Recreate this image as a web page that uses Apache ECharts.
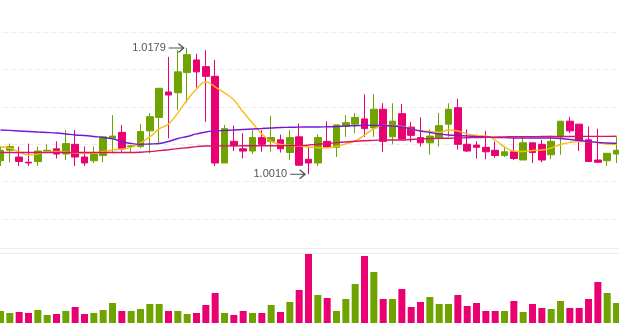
<!DOCTYPE html>
<html>
<head>
<meta charset="utf-8">
<style>
  html, body { margin: 0; padding: 0; background: #fff; }
  #chart { width: 619px; height: 325px; }
</style>
<script src="https://cdn.jsdelivr.net/npm/echarts/dist/echarts.min.js"></script>
</head>
<body>
<div id="chart"></div>
<script>
// Daily candles: [open, close, low, high]
const candles = [
  [1.0028, 1.0042, 1.0021, 1.0047],
  [1.0042, 1.0047, 1.0026, 1.0051],
  [1.0033, 1.0027, 1.0021, 1.0047],
  [1.0026, 1.0025, 1.0021, 1.0051],
  [1.0027, 1.0041, 1.0021, 1.0047],
  [1.0041, 1.0042, 1.0040, 1.0050],
  [1.0044, 1.0037, 1.0031, 1.0054],
  [1.0037, 1.0051, 1.0029, 1.0069],
  [1.0050, 1.0033, 1.0021, 1.0069],
  [1.0033, 1.0025, 1.0021, 1.0047],
  [1.0028, 1.0037, 1.0025, 1.0047],
  [1.0035, 1.0060, 1.0026, 1.0060],
  [1.0058, 1.0061, 1.0038, 1.0089],
  [1.0066, 1.0044, 1.0040, 1.0076],
  [1.0047, 1.0048, 1.0040, 1.0049],
  [1.0047, 1.0067, 1.0045, 1.0077],
  [1.0068, 1.0087, 1.0038, 1.0092],
  [1.0086, 1.0125, 1.0051, 1.0125],
  [1.0120, 1.0116, 1.0058, 1.0167],
  [1.0119, 1.0147, 1.0096, 1.0176],
  [1.0146, 1.0170, 1.0106, 1.0179],
  [1.0163, 1.0147, 1.0126, 1.0171],
  [1.0154, 1.0141, 1.0080, 1.0176],
  [1.0141, 1.0025, 1.0021, 1.0163],
  [1.0025, 1.0071, 1.0025, 1.0076],
  [1.0054, 1.0048, 1.0041, 1.0075],
  [1.0044, 1.0041, 1.0031, 1.0065],
  [1.0041, 1.0059, 1.0037, 1.0069],
  [1.0059, 1.0050, 1.0040, 1.0069],
  [1.0054, 1.0059, 1.0040, 1.0088],
  [1.0056, 1.0044, 1.0039, 1.0063],
  [1.0039, 1.0059, 1.0029, 1.0069],
  [1.0060, 1.0022, 1.0022, 1.0078],
  [1.0030, 1.0025, 1.0010, 1.0047],
  [1.0025, 1.0059, 1.0021, 1.0063],
  [1.0054, 1.0046, 1.0045, 1.0081],
  [1.0046, 1.0076, 1.0033, 1.0076],
  [1.0074, 1.0079, 1.0060, 1.0089],
  [1.0077, 1.0086, 1.0065, 1.0092],
  [1.0084, 1.0071, 1.0060, 1.0117],
  [1.0072, 1.0097, 1.0060, 1.0117],
  [1.0097, 1.0054, 1.0040, 1.0105],
  [1.0060, 1.0081, 1.0050, 1.0105],
  [1.0091, 1.0057, 1.0056, 1.0104],
  [1.0073, 1.0062, 1.0053, 1.0080],
  [1.0059, 1.0052, 1.0047, 1.0086],
  [1.0052, 1.0061, 1.0036, 1.0070],
  [1.0058, 1.0075, 1.0047, 1.0092],
  [1.0077, 1.0097, 1.0060, 1.0105],
  [1.0099, 1.0050, 1.0043, 1.0111],
  [1.0050, 1.0041, 1.0040, 1.0070],
  [1.0049, 1.0046, 1.0031, 1.0054],
  [1.0046, 1.0040, 1.0030, 1.0068],
  [1.0042, 1.0035, 1.0032, 1.0054],
  [1.0035, 1.0040, 1.0033, 1.0046],
  [1.0040, 1.0031, 1.0029, 1.0059],
  [1.0029, 1.0052, 1.0029, 1.0059],
  [1.0052, 1.0039, 1.0025, 1.0052],
  [1.0050, 1.0029, 1.0026, 1.0056],
  [1.0036, 1.0054, 1.0030, 1.0062],
  [1.0060, 1.0081, 1.0036, 1.0081],
  [1.0081, 1.0068, 1.0065, 1.0087],
  [1.0077, 1.0055, 1.0041, 1.0077],
  [1.0056, 1.0027, 1.0027, 1.0074],
  [1.0029, 1.0026, 1.0025, 1.0071],
  [1.0028, 1.0038, 1.0021, 1.0038],
  [1.0037, 1.0042, 1.0025, 1.0060]
];

// Traded volume per day
const volumes = [
  12, 10, 11, 10, 13, 8, 9, 12, 16, 9,
  10, 13, 20, 12, 12, 14, 19, 19, 12, 12,
  9, 10, 18, 30, 10, 8, 12, 10, 10, 18,
  11, 21, 33, 69, 28, 25, 12, 24, 39, 67,
  51, 24, 24, 34, 16, 21, 26, 19, 19, 28,
  17, 20, 12, 12, 12, 22, 11, 19, 15, 14,
  22, 15, 15, 24, 41, 30, 20
];

// Moving averages
const maShort = [
  1.00465, 1.00451, 1.00398, 1.00358, 1.00371, 1.00398, 1.00404, 1.00398, 1.00384, 1.00378,
  1.00384, 1.00404, 1.00424, 1.00438, 1.00458, 1.00518, 1.00599, 1.00706, 1.00773, 1.00920,
  1.01094, 1.01241, 1.01335, 1.01268, 1.01188, 1.01094, 1.00933, 1.00786, 1.00639, 1.00538,
  1.00498, 1.00485, 1.00478, 1.00465, 1.00455, 1.00455, 1.00471, 1.00505, 1.00545, 1.00625,
  1.00706, 1.00753, 1.00753, 1.00739, 1.00706, 1.00679, 1.00672, 1.00659, 1.00692, 1.00679,
  1.00639, 1.00619, 1.00612, 1.00558, 1.00465, 1.00411, 1.00404, 1.00418, 1.00424, 1.00451,
  1.00498, 1.00525, 1.00536, 1.00536, 1.00525, 1.00505, 1.00501
];
const maMid = [
  1.00692, 1.00686, 1.00679, 1.00672, 1.00665, 1.00659, 1.00652, 1.00639, 1.00625, 1.00619,
  1.00605, 1.00592, 1.00572, 1.00538, 1.00511, 1.00501, 1.00505, 1.00511, 1.00538, 1.00578,
  1.00605, 1.00639, 1.00665, 1.00679, 1.00686, 1.00692, 1.00699, 1.00706, 1.00712, 1.00719,
  1.00726, 1.00728, 1.00730, 1.00732, 1.00732, 1.00735, 1.00739, 1.00746, 1.00749, 1.00753,
  1.00753, 1.00749, 1.00746, 1.00732, 1.00706, 1.00679, 1.00659, 1.00639, 1.00625, 1.00619,
  1.00612, 1.00605, 1.00599, 1.00592, 1.00589, 1.00585, 1.00585, 1.00585, 1.00585, 1.00585,
  1.00578, 1.00565, 1.00552, 1.00538, 1.00525, 1.00518, 1.00514
];
const maLong = [
  1.00391, 1.00391, 1.00391, 1.00391, 1.00391, 1.00391, 1.00391, 1.00391, 1.00391, 1.00391,
  1.00391, 1.00391, 1.00391, 1.00391, 1.00391, 1.00394, 1.00402, 1.00415, 1.00428, 1.00442,
  1.00455, 1.00469, 1.00478, 1.00478, 1.00479, 1.00479, 1.00480, 1.00480, 1.00481, 1.00481,
  1.00482, 1.00482, 1.00482, 1.00491, 1.00501, 1.00511, 1.00522, 1.00532, 1.00541, 1.00548,
  1.00553, 1.00558, 1.00558, 1.00558, 1.00565, 1.00572, 1.00576, 1.00580, 1.00582, 1.00585,
  1.00588, 1.00590, 1.00593, 1.00596, 1.00599, 1.00603, 1.00603, 1.00603, 1.00604, 1.00604,
  1.00605, 1.00605, 1.00606, 1.00606, 1.00607, 1.00607, 1.00608
];

const days = candles.map((_, i) => String(i + 1));

const UP = '#6fa400';
const DOWN = '#ea0070';
const GRID_LINE = '#ebebeb';

const chart = echarts.init(document.getElementById('chart'), null, { renderer: 'canvas' });

const hiddenAxisParts = {
  axisTick: { show: false },
  axisLabel: { show: false }
};

// Both panels run slightly past the canvas edges so the outer candles are cut in half.
chart.setOption({
  animation: false,
  backgroundColor: '#fff',
  grid: [
    { left: -4.17, right: -2.2, top: 0, bottom: 77, outerBoundsMode: 'none', containLabel: false },
    { left: -4.17, right: -2.2, top: 253, bottom: 2, outerBoundsMode: 'none', containLabel: false }
  ],
  xAxis: [
    {
      type: 'category', data: days, gridIndex: 0, boundaryGap: true,
      axisLine: { show: true, onZero: false, lineStyle: { color: GRID_LINE, width: 1 } },
      splitLine: { show: false },
      ...hiddenAxisParts
    },
    {
      type: 'category', data: days, gridIndex: 1, boundaryGap: true, position: 'top',
      axisLine: { show: true, onZero: false, lineStyle: { color: GRID_LINE, width: 1 } },
      splitLine: { show: false },
      ...hiddenAxisParts
    }
  ],
  yAxis: [
    {
      type: 'value', gridIndex: 0, min: 0.99112, max: 1.02432, scale: true,
      axisLine: { show: false },
      splitLine: {
        show: true, showMinLine: false, showMaxLine: false,
        lineStyle: { color: GRID_LINE, type: [5, 3], width: 1 }
      },
      ...hiddenAxisParts
    },
    {
      type: 'value', gridIndex: 1, min: 0, max: 70,
      axisLine: { show: false },
      splitLine: { show: false },
      ...hiddenAxisParts
    }
  ],
  series: [
    {
      type: 'candlestick',
      xAxisIndex: 0, yAxisIndex: 0,
      data: candles,
      barWidth: 7,
      itemStyle: {
        color: UP, color0: DOWN,
        borderColor: UP, borderColor0: DOWN,
        borderWidth: 1
      },
      markPoint: {
        symbol: 'path://M0,5 L14,5 M9,1 L14,5 L9,9',
        symbolSize: [15, 9],
        symbolOffset: [-11, 0],
        itemStyle: { color: 'rgba(0,0,0,0)', borderColor: '#555', borderWidth: 1.4 },
        label: {
          show: true, position: 'left', distance: 2,
          color: '#555', fontSize: 11, fontFamily: 'Liberation Sans, Arial, sans-serif',
          formatter: p => Number(p.value).toFixed(4)
        },
        data: [
          { type: 'max', valueDim: 'highest' },
          { type: 'min', valueDim: 'lowest' }
        ]
      }
    },
    {
      type: 'line', data: maShort, xAxisIndex: 0, yAxisIndex: 0,
      smooth: true, showSymbol: false, symbol: 'none',
      lineStyle: { color: '#fbbb14', width: 1.4 }
    },
    {
      type: 'line', data: maMid, xAxisIndex: 0, yAxisIndex: 0,
      smooth: true, showSymbol: false, symbol: 'none',
      lineStyle: { color: '#7519d8', width: 1.4 }
    },
    {
      type: 'line', data: maLong, xAxisIndex: 0, yAxisIndex: 0,
      smooth: true, showSymbol: false, symbol: 'none',
      lineStyle: { color: '#d8136a', width: 1.4 }
    },
    {
      type: 'bar', data: volumes, xAxisIndex: 1, yAxisIndex: 1,
      barWidth: 7,
      itemStyle: {
        color: p => (candles[p.dataIndex][1] >= candles[p.dataIndex][0] ? UP : DOWN)
      }
    }
  ]
});
</script>
</body>
</html>
